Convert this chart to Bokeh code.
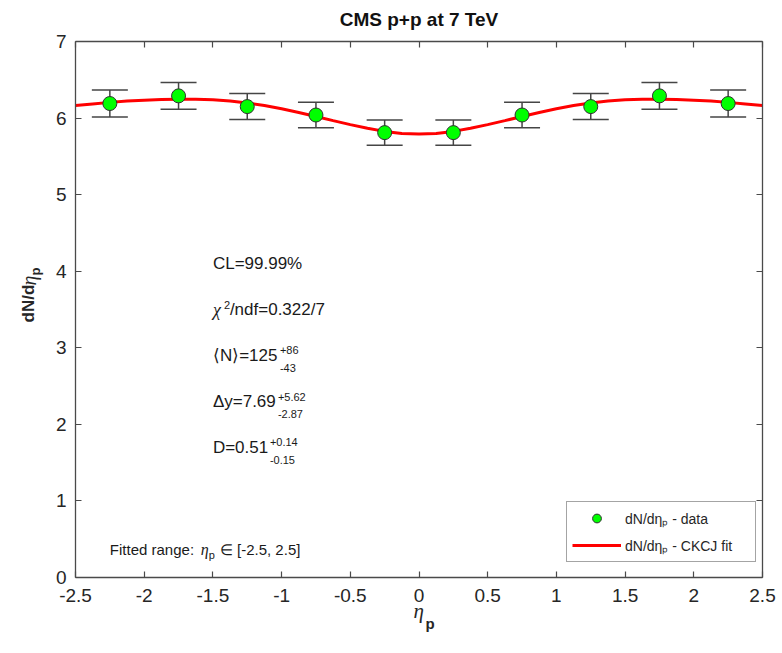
import math
from bokeh.plotting import figure
from bokeh.models import (Range1d, LinearAxis, FixedTicker, NumeralTickFormatter, Whisker,
                          ColumnDataSource, Label, Legend, LegendItem, TeeHead)
from bokeh.embed import file_html
from bokeh.resources import INLINE

# ---------------- data ----------------
eta_data = [-2.25, -1.75, -1.25, -0.75, -0.25, 0.25, 0.75, 1.25, 1.75, 2.25]
dndeta = [6.19, 6.29, 6.15, 6.04, 5.81, 5.81, 6.04, 6.15, 6.29, 6.19]
dndeta_err = [0.175, 0.175, 0.17, 0.167, 0.165, 0.165, 0.167, 0.17, 0.175, 0.175]

eta_fit = [-2.5, -2.375, -2.25, -2.125, -2.0, -1.875, -1.75, -1.625, -1.5, -1.375,
           -1.25, -1.125, -1.0, -0.875, -0.75, -0.625, -0.5, -0.375, -0.25, -0.125,
           0.0, 0.125, 0.25, 0.375, 0.5, 0.625, 0.75, 0.875, 1.0, 1.125,
           1.25, 1.375, 1.5, 1.625, 1.75, 1.875, 2.0, 2.125, 2.25, 2.375, 2.5]
dndeta_fit = [6.165, 6.185, 6.205, 6.222, 6.234, 6.242, 6.246, 6.245, 6.238, 6.222,
              6.197, 6.163, 6.121, 6.073, 6.021, 5.967, 5.914, 5.866, 5.826, 5.800,
              5.791, 5.800, 5.826, 5.866, 5.914, 5.967, 6.021, 6.073, 6.121, 6.163,
              6.197, 6.222, 6.238, 6.245, 6.246, 6.242, 6.234, 6.222, 6.205, 6.185, 6.165]

x_ticks = [-2.5, -2, -1.5, -1, -0.5, 0, 0.5, 1, 1.5, 2, 2.5]
y_ticks = [0, 1, 2, 3, 4, 5, 6, 7]

title_text = "CMS p+p at 7 TeV"
legend_labels = ["dN/d\u03b7\u209a - data", "dN/d\u03b7\u209a - CKCJ fit"]

# ---------------- layout ----------------
W, H = 782, 653
FL, FR, FT, FB = 75, 762, 41, 577          # axes box in page pixels
XMIN, XMAX, YMIN, YMAX = -2.5, 2.5, 0, 7


def dx(px):
    return XMIN + (px - FL) * (XMAX - XMIN) / (FR - FL)


def dy(py):
    return YMIN + (FB - py) * (YMAX - YMIN) / (FB - FT)


AX = "#4a4a4a"
TXT = "#262626"
SANS = "Liberation Sans"
SERIF = "Liberation Serif"

# the plotting frame covers the whole page; the axes box is drawn with fixed-location axes
p = figure(width=W, height=H, output_backend="svg", toolbar_location=None,
           x_range=Range1d(dx(0), dx(W)), y_range=Range1d(dy(H), dy(0)),
           x_axis_location=None, y_axis_location=None,
           min_border=0, min_border_left=0, min_border_right=0,
           min_border_top=0, min_border_bottom=0)
p.outline_line_color = None
p.background_fill_color = "white"
p.border_fill_color = "white"
for g in p.grid:
    g.visible = False
p.xgrid.grid_line_color = None
p.ygrid.grid_line_color = None


def make_axis(ticks, loc, bounds, fmt, show_labels=True, standoff=10):
    ax = LinearAxis(ticker=FixedTicker(ticks=ticks), fixed_location=loc, bounds=bounds,
                    formatter=NumeralTickFormatter(format=fmt))
    ax.axis_line_color = AX
    ax.axis_line_width = 1.3
    ax.major_tick_line_color = AX
    ax.major_tick_line_width = 1.2
    ax.major_tick_in = 6
    ax.major_tick_out = 0
    ax.minor_tick_line_color = None
    ax.major_label_standoff = standoff
    ax.major_label_text_font = SANS
    ax.major_label_text_color = TXT
    if show_labels:
        ax.major_label_text_font_size = "19px"
    else:
        ax.major_label_text_font_size = "0px"
        ax.major_label_text_alpha = 0
    return ax


p.add_layout(make_axis(x_ticks, YMIN, (XMIN, XMAX), "0.[0]", True, 11), "below")
p.add_layout(make_axis(y_ticks, XMIN, (YMIN, YMAX), "0", True, 9), "left")
p.add_layout(make_axis(x_ticks, YMAX, (XMIN, XMAX), "0.[0]", False, 0), "above")
p.add_layout(make_axis(y_ticks, XMAX, (YMIN, YMAX), "0", False, 0), "right")

# ---------------- glyphs ----------------
src = ColumnDataSource(dict(
    x=eta_data, y=dndeta,
    lower=[v - e for v, e in zip(dndeta, dndeta_err)],
    upper=[v + e for v, e in zip(dndeta, dndeta_err)],
))
EB = "#454545"
wh = Whisker(base="x", upper="upper", lower="lower", source=src,
             line_color=EB, line_width=1.5,
             upper_head=TeeHead(size=36, line_color=EB, line_width=1.5),
             lower_head=TeeHead(size=36, line_color=EB, line_width=1.5))
wh.level = "underlay"
p.add_layout(wh)

ln = p.line(eta_fit, dndeta_fit, line_color="#ff0000", line_width=3)
sc = p.scatter("x", "y", source=src, size=14, fill_color="#00ff00",
               line_color="#303030", line_width=1)

leg = Legend(items=[LegendItem(label=legend_labels[0], renderers=[sc]),
                    LegendItem(label=legend_labels[1], renderers=[ln])],
             location=(566, H - 562), orientation="vertical",
             border_line_color=AX, border_line_width=1,
             background_fill_color="white", background_fill_alpha=1,
             label_text_font=SANS, label_text_font_size="14px", label_text_color=TXT,
             glyph_width=49, glyph_height=22, padding=5, spacing=5,
             label_standoff=4, label_width=125, margin=0)
p.add_layout(leg)


def lab(x, y, text, size, font=SANS, style="normal", xo=0, yo=0,
        align="left", baseline="middle", angle=0, color="#1a1a1a"):
    p.add_layout(Label(x=x, y=y, text=text, text_font=font, text_font_size=size,
                       text_font_style=style, text_color=color, text_align=align,
                       text_baseline=baseline, x_offset=xo, y_offset=yo, angle=angle))


# title
lab(dx((FL + FR) / 2), dy(19), title_text, "19px", style="bold", align="center", color="#111111")

# fit-result annotations
ax0 = -1.5
lab(ax0, 4.1, "CL=99.99%", "17px")
lab(ax0, 3.5, "\u03c7", "18px", font=SERIF, style="italic")
lab(ax0, 3.5, "2", "11px", xo=11, yo=5)
lab(ax0, 3.5, "/ndf=0.322/7", "17px", xo=17)
lab(ax0, 2.9, "\u27e8N\u27e9=125", "17px")
lab(ax0, 2.9, "+86", "11px", xo=67, yo=5)
lab(ax0, 2.9, "-43", "11px", xo=67, yo=-13)
lab(ax0, 2.3, "\u0394y=7.69", "17px")
lab(ax0, 2.3, "+5.62", "11px", xo=65, yo=4)
lab(ax0, 2.3, "-2.87", "11px", xo=65, yo=-13)
lab(ax0, 1.7, "D=0.51", "17px")
lab(ax0, 1.7, "+0.14", "11px", xo=57, yo=5)
lab(ax0, 1.7, "-0.15", "11px", xo=57, yo=-13)

# fitted range text
fy = dy(549)
lab(-2.25, fy, "Fitted range: ", "15px")
lab(-2.25, fy, "\u03b7", "16px", font=SERIF, style="italic", xo=91)
lab(-2.25, fy, "p", "11px", xo=99, yo=-5)
lab(-2.25, fy, "\u2208 [-2.5, 2.5]", "15px", xo=110)

# x-axis label
lab(dx(413), dy(610), "\u03b7", "21px", font=SERIF, style="italic", color=TXT)
lab(dx(425), dy(623), "p", "15px", style="bold", color=TXT)

# y-axis label (rotated)
ang = math.pi / 2
lab(dx(28), dy(322), "dN/d", "17px", style="bold", angle=ang, color=TXT)
lab(dx(28), dy(285), "\u03b7", "20px", font=SERIF, style="italic", angle=ang, color=TXT)
lab(dx(35), dy(275), "p", "13px", style="bold", angle=ang, color=TXT)

open("out.html", "w").write(file_html(p, INLINE))
